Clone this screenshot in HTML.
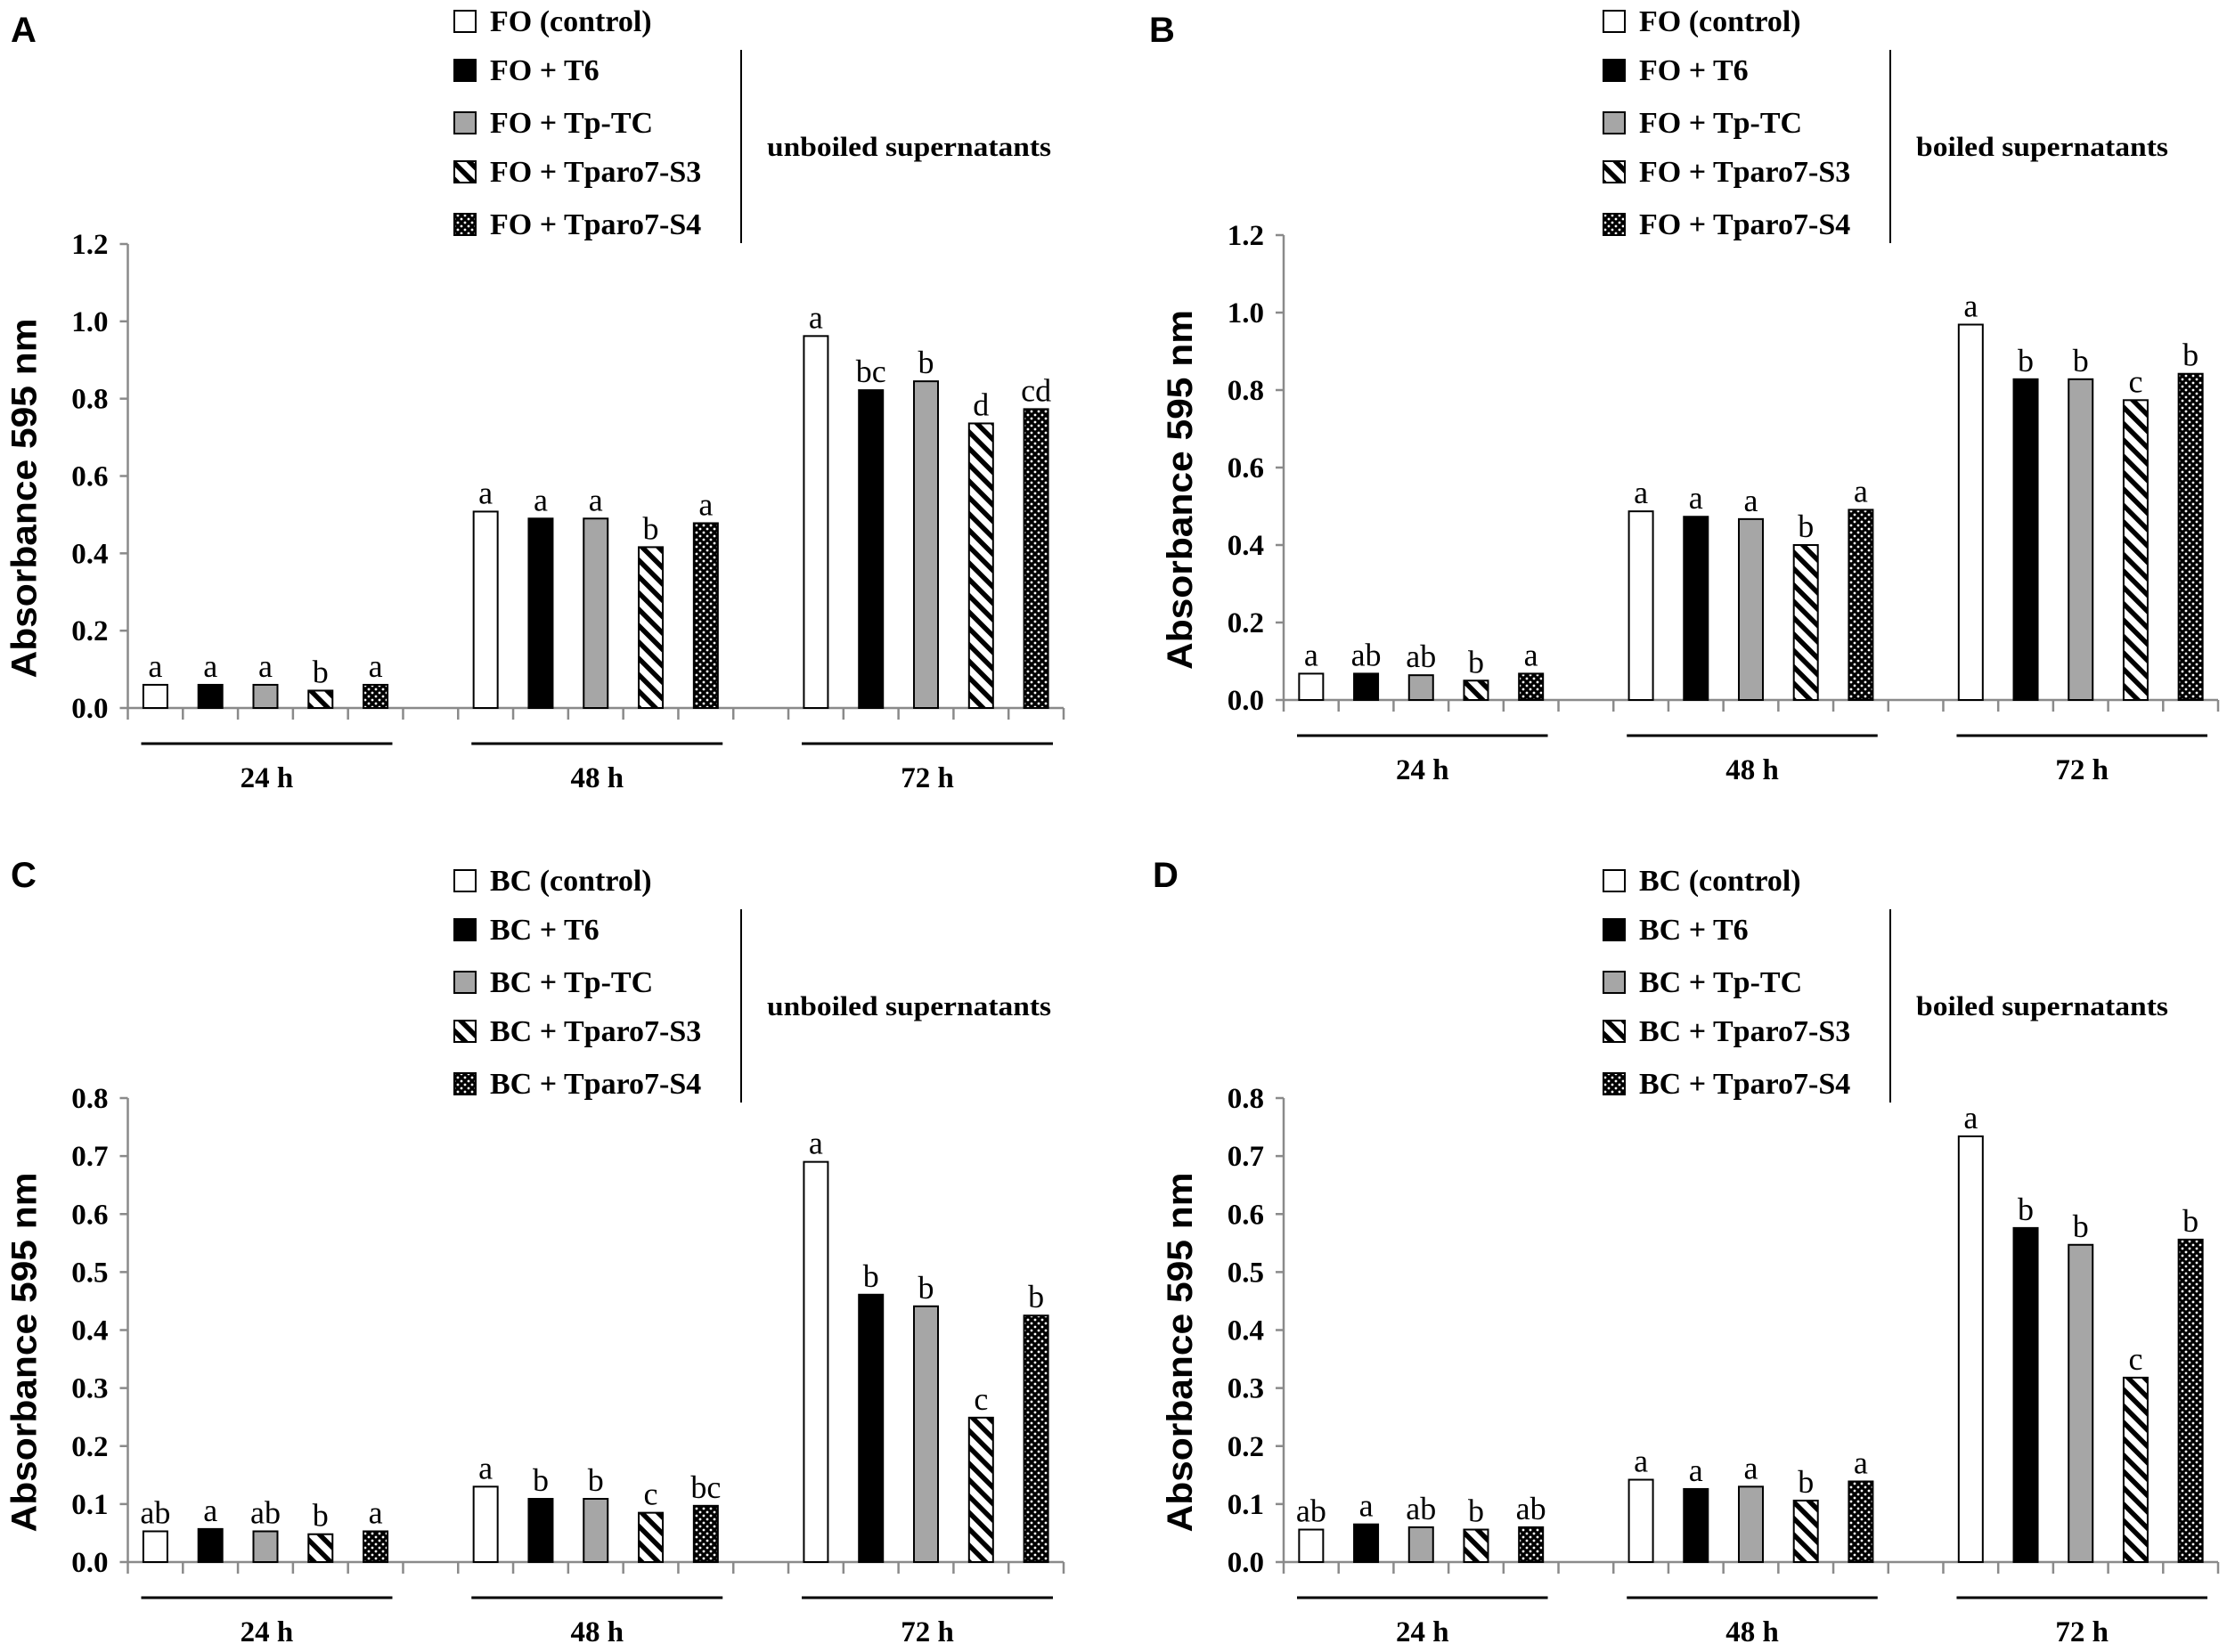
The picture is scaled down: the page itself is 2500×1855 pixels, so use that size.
<!DOCTYPE html>
<html><head><meta charset="utf-8"><style>
html,body{margin:0;padding:0;background:#fff;}
svg{display:block;}
</style></head>
<body>
<svg id="fig" width="2500" height="1855" viewBox="0 0 2500 1855" xmlns="http://www.w3.org/2000/svg">
<defs>
<pattern id="hatch" patternUnits="userSpaceOnUse" width="13" height="13" patternTransform="rotate(45)">
<rect width="13" height="13" fill="#fff"/><rect x="0" y="0" width="13" height="5.5" fill="#000"/>
</pattern>
<pattern id="dots" patternUnits="userSpaceOnUse" width="8" height="8">
<rect width="8" height="8" fill="#000"/><circle cx="2" cy="2" r="1.4" fill="#fff"/><circle cx="6" cy="6" r="1.4" fill="#fff"/>
</pattern>
</defs>
</svg>
<script>
const timeLabels = ["24 h","48 h","72 h"];
const fills = ["#fff","#000","#a6a6a6","url(#hatch)","url(#dots)"];
const legendFO = ["FO (control)","FO + T6","FO + Tp-TC","FO + Tparo7-S3","FO + Tparo7-S4"];
const legendBC = ["BC (control)","BC + T6","BC + Tp-TC","BC + Tparo7-S3","BC + Tparo7-S4"];
// values per treatment series, across 24h/48h/72h
const valuesA = [[0.06,0.508,0.962],[0.06,0.49,0.822],[0.06,0.49,0.845],[0.045,0.416,0.736],[0.06,0.478,0.773]];
const lettersA = [["a","a","a"],["a","a","bc"],["a","a","b"],["b","b","d"],["a","a","cd"]];
const valuesB = [[0.068,0.487,0.969],[0.068,0.473,0.828],[0.064,0.467,0.828],[0.05,0.40,0.774],[0.068,0.491,0.842]];
const lettersB = [["a","a","a"],["ab","a","b"],["ab","a","b"],["b","b","c"],["a","a","b"]];
const valuesC = [[0.053,0.13,0.69],[0.057,0.109,0.461],[0.053,0.109,0.441],[0.048,0.085,0.249],[0.053,0.097,0.425]];
const lettersC = [["ab","a","a"],["a","b","b"],["ab","b","b"],["b","c","c"],["a","bc","b"]];
const valuesD = [[0.056,0.142,0.734],[0.065,0.126,0.576],[0.06,0.13,0.547],[0.056,0.106,0.318],[0.06,0.139,0.556]];
const lettersD = [["ab","a","a"],["a","a","b"],["ab","a","b"],["b","b","c"],["ab","a","b"]];
const ticksHigh = [0,0.2,0.4,0.6,0.8,1.0,1.2];
const ticksLow = [0,0.1,0.2,0.3,0.4,0.5,0.6,0.7,0.8];

const NS="http://www.w3.org/2000/svg";
const svg=document.getElementById('fig');
function mk(tag,attrs,parent){const e=document.createElementNS(NS,tag);for(const k in attrs)e.setAttribute(k,attrs[k]);(parent||svg).appendChild(e);return e;}

function panel(p){
  const g=mk('g',{});
  
  
  const ymax=p.ticks[p.ticks.length-1];
  const yS=v=>p.y0-(v/ymax)*(p.y0-p.top);
  const nSlots=17, sw=(p.right-p.ax)/nSlots;
  const slotX=i=>p.ax+sw*(i+0.5);
  const L=mk('text',{x:p.lx,y:p.ly,'font-family':'Liberation Sans, sans-serif','font-weight':'bold','font-size':40},g);
  L.textContent=p.id;
  
  
  const ya=mk('line',{x1:p.ax,y1:p.top,x2:p.ax,y2:p.y0,stroke:'#8a8a8a','stroke-width':2.5},g);
  
  
  p.ticks.forEach(t=>{
    const y=yS(t);
    mk('line',{x1:p.ax-9,y1:y,x2:p.ax,y2:y,stroke:'#8a8a8a','stroke-width':2.5},g);
    const tl=mk('text',{x:p.ax-22,y:y+11,'text-anchor':'end','font-family':'Liberation Serif, serif','font-weight':'bold','font-size':33},g);
    tl.textContent=t.toFixed(1);
    
    
  });
  const yt=mk('text',{x:0,y:0,'text-anchor':'middle','font-family':'Liberation Sans, sans-serif','font-weight':'bold','font-size':40,textLength:404,lengthAdjust:'spacingAndGlyphs',transform:`translate(${p.ax-103},${(p.y0+p.top)/2+25}) rotate(-90)`},g);
  yt.textContent='Absorbance 595 nm';
  
  
  const xa=mk('line',{x1:p.ax,y1:p.y0,x2:p.right,y2:p.y0,stroke:'#8a8a8a','stroke-width':2.5},g);
  
  
  for(let i=0;i<=nSlots;i++){const x=p.ax+sw*i;mk('line',{x1:x,y1:p.y0,x2:x,y2:p.y0+13,stroke:'#8a8a8a','stroke-width':2.5},g);}
  for(let gi=0;gi<3;gi++){
    for(let s=0;s<5;s++){
      const v=p.values[s][gi];
      const cx=slotX(gi*6+s), bw=27, y=yS(v);
      const r=mk('rect',{x:cx-bw/2,y:y,width:bw,height:p.y0-y,fill:fills[s],stroke:'#000','stroke-width':2},g);
      
      
      const lt=mk('text',{x:cx,y:y-9,'text-anchor':'middle','font-family':'Liberation Serif, serif','font-size':36},g);
      lt.textContent=p.letters[s][gi];
      
      
    }
    const x1=p.ax+sw*(gi*6)+15, x2=p.ax+sw*(gi*6+5)-12;
    const gl=mk('line',{x1:x1,y1:p.y0+40,x2:x2,y2:p.y0+40,stroke:'#000','stroke-width':3},g);
    
    
    const gt=mk('text',{x:(x1+x2)/2,y:p.y0+89,'text-anchor':'middle','font-family':'Liberation Serif, serif','font-weight':'bold','font-size':33},g);
    gt.textContent=timeLabels[gi];
    
    
  }
  const rows=[24,79,138,193,252];
  p.legend.forEach((name,i)=>{
    const cy=p.legY+rows[i];
    const b=mk('rect',{x:p.legX,y:cy-12,width:24,height:24,fill:fills[i],stroke:'#000','stroke-width':2},g);
    
    
    const t=mk('text',{x:p.legX+40,y:cy+11,'font-family':'Liberation Serif, serif','font-weight':'bold','font-size':34},g);
    t.textContent=name;
    
    
  });
  const vl=mk('line',{x1:p.legX+322,y1:p.legY+56,x2:p.legX+322,y2:p.legY+273,stroke:'#000','stroke-width':2},g);
  
  
  const nt=mk('text',{x:p.legX+351,y:p.legY+175,'font-family':'Liberation Serif, serif','font-weight':'bold','font-size':31,textLength:p.noteLen,lengthAdjust:'spacingAndGlyphs'},g);
  nt.textContent=p.note;
  
  
}

panel({id:'A',lx:12,ly:47,ax:143.5,right:1194,y0:795,top:274,ticks:ticksHigh,values:valuesA,letters:lettersA,legend:legendFO,legX:510,legY:0,note:'unboiled supernatants',noteLen:319});
panel({id:'B',lx:1290,ly:47,ax:1441,right:2490,y0:786,top:264,ticks:ticksHigh,values:valuesB,letters:lettersB,legend:legendFO,legX:1800,legY:0,note:'boiled supernatants',noteLen:283});
panel({id:'C',lx:12,ly:996,ax:143.5,right:1194,y0:1754,top:1233,ticks:ticksLow,values:valuesC,letters:lettersC,legend:legendBC,legX:510,legY:965,note:'unboiled supernatants',noteLen:319});
panel({id:'D',lx:1294,ly:996,ax:1441,right:2490,y0:1754,top:1233,ticks:ticksLow,values:valuesD,letters:lettersD,legend:legendBC,legX:1800,legY:965,note:'boiled supernatants',noteLen:283});
</script>
</body></html>
